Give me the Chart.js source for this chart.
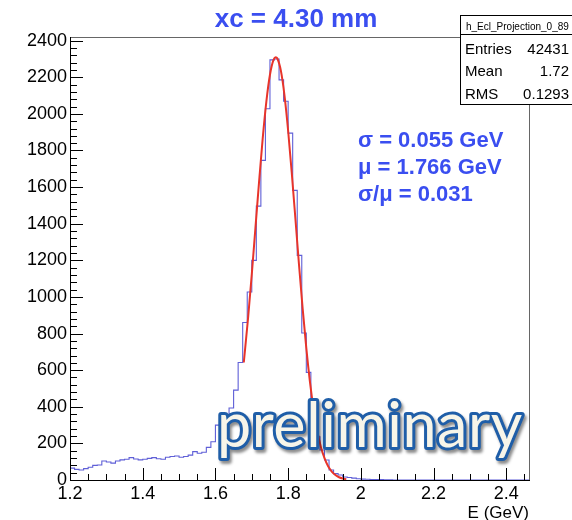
<!DOCTYPE html>
<html><head><meta charset="utf-8">
<script src="https://cdn.jsdelivr.net/npm/chart.js@4"></script>
<style>html,body{margin:0;padding:0;background:#fff}#wrap{width:572px;height:520px;position:relative}</style>
</head><body><div id="wrap"><canvas id="c" width="572" height="520"></canvas></div>
<script>
// ---- data ----
const binStart = 1.2;
const binWidth = 0.0125;
const counts = [
  65, 58, 55, 62, 70, 80, 82, 104, 98, 92,
  104, 110, 113, 122, 115, 110, 113, 118, 122, 116,
  113, 124, 128, 131, 124, 128, 136, 155, 146, 152,
  178, 209, 300, 330, 350, 393, 491, 642, 860, 1027,
  1200, 1496, 1746, 2028, 2295, 2300, 2186, 2069, 1895, 1582,
  1227, 803, 588, 380, 236, 164, 109, 55, 35, 27,
  16, 14, 10, 7, 5, 4, 3, 2, 2, 1,
  1, 0, 0, 0, 0, 0, 0, 0, 0, 0,
  0, 0, 0, 0, 0, 0, 0, 0, 0, 0,
  0, 0, 0, 0, 0, 0, 0, 0, 0, 0, 0
];
const fitE = [1.678, 1.69, 1.70, 1.71, 1.72, 1.73, 1.74, 1.75, 1.76, 1.766, 1.77, 1.78, 1.79, 1.80, 1.81, 1.82, 1.83, 1.84, 1.85, 1.86, 1.87, 1.88, 1.89, 1.90, 1.91, 1.92, 1.93, 1.94, 1.95, 1.96];
const fitY = [642, 889, 1124, 1376, 1628, 1865, 2066, 2214, 2296, 2310, 2304, 2236, 2100, 1908, 1677, 1427, 1173, 935, 720, 536, 386, 270, 182, 119, 75, 46, 27, 15, 8, 4];
const xTicks = [1.2, 1.4, 1.6, 1.8, 2.0, 2.2, 2.4];
const xTickLabels = ['1.2', '1.4', '1.6', '1.8', '2', '2.2', '2.4'];
const yTicks = [0, 200, 400, 600, 800, 1000, 1200, 1400, 1600, 1800, 2000, 2200, 2400];
const yTickLabels = ['0', '200', '400', '600', '800', '1000', '1200', '1400', '1600', '1800', '2000', '2200', '2400'];
const titleText = 'xc = 4.30 mm';
const xAxisTitle = 'E (GeV)';
const statsName = 'h_Ecl_Projection_0_89';
const statsRows = [['Entries', '42431'], ['Mean', '1.72'], ['RMS', '0.1293']];
const fitLines = ['\u03c3 = 0.055 GeV', '\u03bc = 1.766 GeV', '\u03c3/\u03bc = 0.031'];
const watermark = 'preliminary';

// ---- build datasets ----
const histPoints = counts.map((v, k) => ({x: binStart + k * binWidth, y: v}));
histPoints.push({x: binStart + counts.length * binWidth, y: counts[counts.length - 1]});
const fitPoints = fitE.map((e, i) => ({x: e, y: fitY[i]}));

const BLUE = 'rgb(58,78,240)';
const FONT = '"Liberation Sans", Arial, Helvetica, sans-serif';

const decor = {
  id: 'decor',
  afterDraw(chart) {
    const ctx = chart.ctx;
    const xs = chart.scales.x, ys = chart.scales.y;
    const a = chart.chartArea;
    ctx.save();
    // frame
    ctx.lineWidth = 1;
    ctx.strokeStyle = '#666';
    ctx.beginPath();
    ctx.moveTo(a.left, a.top + 0.5); ctx.lineTo(a.right + 0.5, a.top + 0.5); ctx.lineTo(a.right + 0.5, a.bottom);
    ctx.stroke();
    ctx.strokeStyle = '#000';
    ctx.beginPath();
    ctx.moveTo(a.left + 0.5, a.top); ctx.lineTo(a.left + 0.5, a.bottom + 0.5); ctx.lineTo(a.right + 1, a.bottom + 0.5);
    ctx.stroke();
    // ticks (inside)
    ctx.beginPath();
    for (let v = 0; v <= 2420; v += 40) {
      const y = Math.round(ys.getPixelForValue(v)) + 0.5;
      const len = (v % 200 === 0) ? 13 : 7;
      ctx.moveTo(a.left, y); ctx.lineTo(a.left + len, y);
    }
    for (let i = 0; i <= 25; i++) {
      const v = 1.2 + i * 0.05;
      if (v > 2.4625) break;
      const x = Math.round(xs.getPixelForValue(v)) + 0.5;
      const len = (i % 4 === 0) ? 12 : 6;
      ctx.moveTo(x, a.bottom); ctx.lineTo(x, a.bottom - len);
    }
    ctx.stroke();

    // axis title
    ctx.fillStyle = '#000';
    ctx.font = '17px ' + FONT;
    ctx.textAlign = 'right';
    ctx.textBaseline = 'alphabetic';
    ctx.fillText(xAxisTitle, a.right, 518);

    // main title
    ctx.fillStyle = BLUE;
    ctx.font = 'bold 26px ' + FONT;
    ctx.textAlign = 'center';
    ctx.fillText(titleText, 296, 27);

    // fit results
    ctx.font = 'bold 22px ' + FONT;
    ctx.textAlign = 'left';
    const fy = [147, 174, 201];
    fitLines.forEach((t, i) => ctx.fillText(t, 358, fy[i]));

    // stats box
    const bx = 460.5, by = 15.5, bw = 130, bh = 89;
    ctx.fillStyle = '#fff';
    ctx.fillRect(bx, by, bw, bh);
    ctx.strokeStyle = '#000';
    ctx.lineWidth = 1;
    ctx.strokeRect(bx, by, bw, bh);
    ctx.beginPath();
    ctx.moveTo(bx, 34.5); ctx.lineTo(bx + bw, 34.5);
    ctx.stroke();
    ctx.fillStyle = '#000';
    ctx.font = '10px ' + FONT;
    ctx.textAlign = 'left';
    ctx.textBaseline = 'middle';
    ctx.fillText(statsName, 466, 27);
    ctx.font = '15px ' + FONT;
    const ry = [50, 72, 95];
    statsRows.forEach((r, i) => {
      ctx.textAlign = 'left';
      ctx.fillText(r[0], 465, ry[i]);
      ctx.textAlign = 'right';
      ctx.fillText(r[1], 569, ry[i]);
    });

    // watermark
    ctx.textAlign = 'left';
    ctx.textBaseline = 'alphabetic';
    ctx.font = '61px Lato, "Open Sans", sans-serif';
    if ('letterSpacing' in ctx) ctx.letterSpacing = '0.6px';
    ctx.lineJoin = 'round';
    ctx.save();
    ctx.shadowColor = 'rgba(0,0,0,0.45)';
    ctx.shadowOffsetX = 2; ctx.shadowOffsetY = 3; ctx.shadowBlur = 3;
    ctx.strokeStyle = '#1f5ea8';
    ctx.lineWidth = 6;
    ctx.strokeText(watermark, 217, 447);
    ctx.restore();
    ctx.fillStyle = '#f7f5e9';
    ctx.fillText(watermark, 217, 447);
    ctx.restore();
  }
};

new Chart(document.getElementById('c'), {
  type: 'line',
  data: {
    datasets: [
      {data: histPoints, borderColor: 'rgb(95,95,215)', borderWidth: 1.1, stepped: true, pointRadius: 0, fill: false, order: 2},
      {data: fitPoints, borderColor: 'rgb(232,52,42)', borderWidth: 2, cubicInterpolationMode: 'monotone', pointRadius: 0, fill: false, order: 1}
    ]
  },
  options: {
    responsive: false,
    animation: false,
    devicePixelRatio: 1,
    layout: {padding: {left: 0, right: 43, top: 37, bottom: 0}},
    plugins: {legend: {display: false}, tooltip: {enabled: false}, title: {display: false}},
    scales: {
      x: {
        type: 'linear', min: 1.2, max: 2.4625,
        afterBuildTicks: s => { s.ticks = xTicks.map(v => ({value: v})); },
        afterFit: s => { s.height = 40; },
        grid: {display: false, drawTicks: false},
        border: {display: false},
        ticks: {callback: (v, i) => xTickLabels[i], color: '#000', font: {family: 'Liberation Sans', size: 18}, padding: 3, maxRotation: 0, autoSkip: false}
      },
      y: {
        type: 'linear', min: 0, max: 2420,
        afterBuildTicks: s => { s.ticks = yTicks.map(v => ({value: v})); },
        afterFit: s => { s.width = 70; },
        grid: {display: false, drawTicks: false},
        border: {display: false},
        ticks: {callback: (v, i) => yTickLabels[i], color: '#000', font: {family: 'Liberation Sans', size: 18}, padding: 3, autoSkip: false}
      }
    }
  },
  plugins: [decor]
});
</script>
</body></html>
